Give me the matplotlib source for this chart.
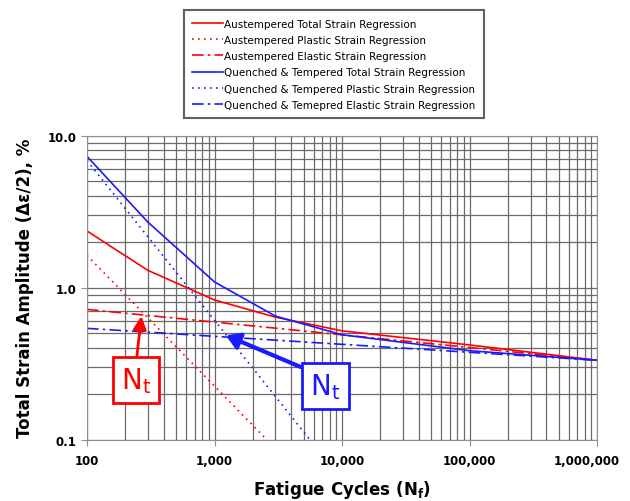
import matplotlib
matplotlib.use('Agg')
import matplotlib.pyplot as plt
import matplotlib.transforms as mtransforms
from matplotlib.ticker import FixedLocator, LogLocator, NullFormatter

# values (cycles, strain amplitude %)
aus_total_n = [100, 300, 1000, 3000, 10000, 100000, 1000000]
aus_total = [2.36, 1.30, 0.83, 0.64, 0.52, 0.42, 0.333]
aus_plastic_n = [100, 2570]
aus_plastic = [1.63, 0.10]
aus_elastic_n = [100, 1000000]
aus_elastic = [0.72, 0.333]

qt_total_n = [100, 300, 1000, 3000, 10000, 100000, 1000000]
qt_total = [7.3, 2.70, 1.09, 0.65, 0.49, 0.385, 0.333]
qt_plastic_n = [100, 5600]
qt_plastic = [6.85, 0.10]
qt_elastic_n = [100, 1000000]
qt_elastic = [0.54, 0.333]

# transition life markers
aus_nt = (267, 0.65)
qt_nt = (1228, 0.486)

x_ticks = [100, 1000, 10000, 100000, 1000000]
x_labels = ['100', '1,000', '10,000', '100,000', '1,000,000']
y_ticks = [0.1, 1.0, 10.0]
y_labels = ['0.1', '1.0', '10.0']

labels = ['Austempered Total Strain Regression',
          'Austempered Plastic Strain Regression',
          'Austempered Elastic Strain Regression',
          'Quenched & Tempered Total Strain Regression',
          'Quenched & Tempered Plastic Strain Regression',
          'Quenched & Temepred Elastic Strain Regression']

RED = '#ff0000'
BLUE = '#1a1aff'
dotted = (0, (1, 2.6))
dashdot = (0, (7, 2.5, 1.5, 2.5))

fig = plt.figure(figsize=(6.3, 5.02), dpi=100)
ax = fig.add_axes([0.138, 0.122, 0.810, 0.606])

lw = 1.2
h1, = ax.plot(aus_total_n, aus_total, color=RED, lw=lw)
h2, = ax.plot(aus_plastic_n, aus_plastic, color=RED, lw=lw, linestyle=dotted)
h3, = ax.plot(aus_elastic_n, aus_elastic, color=RED, lw=lw, linestyle=dashdot)
h4, = ax.plot(qt_total_n, qt_total, color=BLUE, lw=lw)
h5, = ax.plot(qt_plastic_n, qt_plastic, color=BLUE, lw=lw, linestyle=dotted)
h6, = ax.plot(qt_elastic_n, qt_elastic, color=BLUE, lw=lw, linestyle=dashdot)

ax.set_xscale('log')
ax.set_yscale('log')
ax.set_xlim(100, 1000000)
ax.set_ylim(0.1, 10.0)

ax.xaxis.set_major_locator(FixedLocator(x_ticks))
ax.set_xticklabels(x_labels)
ax.yaxis.set_major_locator(FixedLocator(y_ticks))
ax.set_yticklabels(y_labels)
ax.xaxis.set_minor_locator(LogLocator(base=10, subs=range(2, 10)))
ax.yaxis.set_minor_locator(LogLocator(base=10, subs=range(2, 10)))
ax.xaxis.set_minor_formatter(NullFormatter())
ax.yaxis.set_minor_formatter(NullFormatter())

ax.grid(which='both', color='#6a6a6a', lw=0.9)
ax.set_axisbelow(True)
for s in ax.spines.values():
    s.set_color('#909090')
ax.tick_params(which='major', length=4, color='#909090', labelsize=8.5)
ax.tick_params(which='minor', length=0)
ax.tick_params(axis='x', pad=6)
for t in ax.get_xticklabels() + ax.get_yticklabels():
    t.set_fontweight('bold')
# last x label sits a little left so it stays inside the figure
last = ax.get_xticklabels()[-1]
last.set_transform(last.get_transform() + mtransforms.ScaledTranslation(-10 / 100, 0, fig.dpi_scale_trans))

ax.set_xlabel('Fatigue Cycles ($\\mathbf{N_f}$)', fontsize=12, fontweight='bold', labelpad=8)
ax.set_ylabel('Total Strain Amplitude (\u0394\u03b5/2), %', fontsize=12, fontweight='bold', labelpad=10)

# N_t callouts
ax.annotate('$\\mathregular{N_t}$', xy=aus_nt, xytext=(0.096, 0.197), textcoords='axes fraction',
            ha='center', va='center', fontsize=20, color=RED,
            bbox=dict(boxstyle='square,pad=0.3', fc='white', ec=RED, lw=2),
            arrowprops=dict(arrowstyle='-|>,head_length=0.4,head_width=0.2', color=RED, lw=2,
                            relpos=(0.5, 1.0), shrinkA=0, shrinkB=0))
ax.annotate('$\\mathregular{N_t}$', xy=qt_nt, xytext=(0.467, 0.177), textcoords='axes fraction',
            ha='center', va='center', fontsize=20, color=BLUE,
            bbox=dict(boxstyle='square,pad=0.3', fc='white', ec=BLUE, lw=2),
            arrowprops=dict(arrowstyle='-|>,head_length=0.4,head_width=0.25', color=BLUE, lw=3,
                            relpos=(0.0, 1.0), shrinkA=0, shrinkB=0))

leg = fig.legend([h1, h2, h3, h4, h5, h6], labels, loc='upper center',
                 bbox_to_anchor=(0.53, 0.988), fontsize=7.5, fancybox=False,
                 handlelength=2.9, handletextpad=0.15, labelspacing=0.6,
                 borderpad=0.8, framealpha=1)
leg.get_frame().set_edgecolor('#606060')
leg.get_frame().set_linewidth(1.5)

fig.savefig('out.png', dpi=100, facecolor='white')
